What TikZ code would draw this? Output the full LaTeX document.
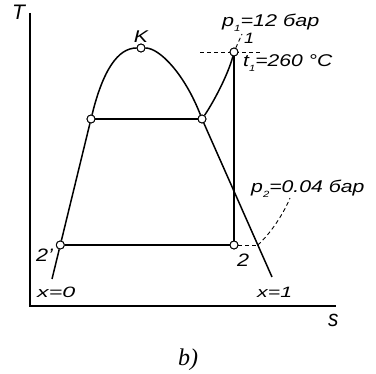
\documentclass[tikz,border=0pt]{standalone}
\usepackage{fontspec}
\setmainfont{Liberation Sans}
\newfontfamily\serifit{Liberation Serif}
\newcommand{\hs}[2]{\scalebox{#1}[1]{#2}}
\newcommand{\sbs}[1]{\raisebox{-4.5pt}{\fontsize{9}{9}\selectfont #1}}
\begin{document}
\begin{tikzpicture}[x=1pt,y=-1pt,
  curve/.style={line width=1.5pt},
  axis/.style={line width=1.6pt},
  thick line/.style={line width=2pt},
  pt/.style={circle, draw, fill=white, line width=0.9pt, inner sep=0pt, minimum size=8pt},
  dsh/.style={line width=0.9pt, dash pattern=on 4pt off 3pt},
  lbl/.style={font=\fontsize{17}{17}\selectfont\itshape, inner sep=0pt},
  small lbl/.style={font=\fontsize{15}{15}\selectfont\itshape, inner sep=0pt}]
\useasboundingbox (0,0) rectangle (376,374);

% axes
\coordinate (Ytop) at (30,13);
\coordinate (O) at (30,306);
\coordinate (Xend) at (336,306);
\draw[axis] (Ytop) -- (O) -- (Xend);

% state points
\node[pt] (A) at (91,119) {};
\node[pt] (K) at (141,48) {};
\node[pt] (B) at (202,119) {};
\node[pt] (P1) at (234,52) {};
\node[pt] (P2) at (234,245) {};
\node[pt] (P2p) at (60.3,245) {};
\coordinate (L0) at (52,279);
\coordinate (R1) at (272,277);
\coordinate (C) at (257.8,245);
\coordinate (Pend) at (290,198);
\coordinate (H1) at (200,52);
\coordinate (H2) at (262,52);
\coordinate (T1) at (242,34);

% saturation dome
\draw[curve] (A) .. controls (103,70) and (118,48) .. (K);
\draw[curve] (K) .. controls (160,48) and (185,75) .. (B);
\draw[curve] (A) -- (P2p);
\draw[curve] (P2p) -- (L0);
\draw[curve] (B) -- (R1);
% cycle
\draw[curve] (A) -- (B);
\draw[curve] (B) .. controls (213,103) and (228,75) .. (P1);
\draw[thick line] (P1) -- (P2);
\draw[curve] (P2p) -- (P2);
% isobars / isotherm
\draw[dsh] (P2) -- (C);
\draw[dsh] (C) .. controls (270,234) and (283,215) .. (Pend);
\draw[dsh] (H1) -- (H2);
\draw[dsh] (P1) -- (T1);

% redraw points on top
\foreach \n in {A,K,B,P1,P2,P2p} \node[pt] at (\n) {};

% labels
\node[font=\fontsize{21}{21}\selectfont\itshape, inner sep=0pt, anchor=base west] (lT) at (12,20) {T};
\node[font=\fontsize{23}{23}\selectfont\itshape, inner sep=0pt, anchor=base west] (ls) at (328,327) {\hs{0.9}{s}};
\node[lbl, anchor=base] (lK) at (141,43) {\hs{1.25}{K}};
\node[small lbl, anchor=base west] (l1) at (244,44) {\hs{1.2}{1}};
\node[lbl, anchor=base west] (lp1) at (222,27) {\hs{1.27}{p\sbs{1}=12 бар}};
\node[lbl, anchor=base west] (lt1) at (243,67) {\hs{1.24}{t\sbs{1}=260 °C}};
\node[lbl, anchor=base west] (lp2) at (251,193) {\hs{1.25}{p\sbs{2}=0.04 бар}};
\node[lbl, font=\fontsize{18}{18}\selectfont\itshape, anchor=base west] (l2) at (237,267) {\hs{1.2}{2}};
\node[lbl, font=\fontsize{18}{18}\selectfont\itshape, anchor=base west] (l2p) at (36,262) {\hs{1.2}{2'}};
\node[small lbl, anchor=base west] (lx0) at (37,298) {\hs{1.55}{x=0}};
\node[small lbl, anchor=base west] (lx1) at (257,298) {\hs{1.42}{x=1}};
\node[font=\fontsize{24}{24}\selectfont\serifit\itshape, inner sep=0pt, anchor=base] (lb) at (188,366) {b)};
\end{tikzpicture}
\end{document}
